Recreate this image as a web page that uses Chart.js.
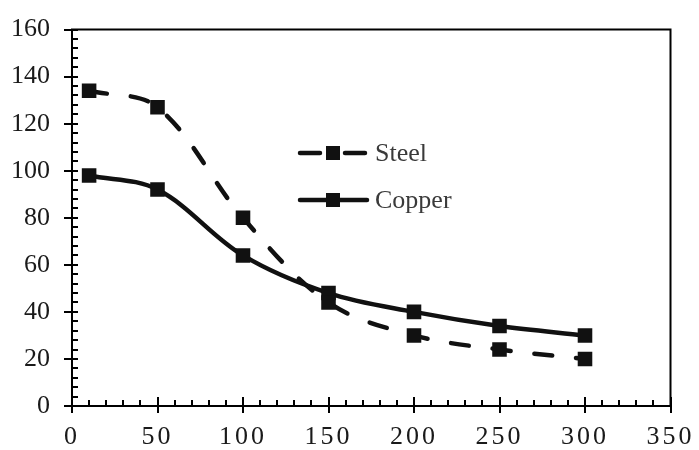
<!DOCTYPE html>
<html><head><meta charset="utf-8">
<script src="https://cdn.jsdelivr.net/npm/chart.js@4"></script>
<style>html,body{margin:0;padding:0;background:#fff}#wrap{width:699px;height:450px}</style>
</head><body><div id="wrap"><canvas id="c" width="699" height="450"></canvas></div>
<script>
const xValues = [10, 50, 100, 150, 200, 250, 300];
const steelValues = [134, 127, 80, 44, 30, 24, 20];
const copperValues = [98, 92, 64, 48, 40, 34, 30];
const seriesNames = ['Steel', 'Copper'];
const xTickValues = [0, 50, 100, 150, 200, 250, 300, 350];
const yTickValues = [0, 20, 40, 60, 80, 100, 120, 140, 160];

const FONT = '"Liberation Serif", "Times New Roman", serif';
const INK = '#111';

const framePlugin = {
  id: 'frame',
  beforeDraw(chart) {
    const s = chart.scales.x;
    if (!s._spaced) {
      const orig = s.drawLabels.bind(s);
      s.drawLabels = function (area) {
        const ctx = chart.ctx;
        ctx.save();
        ctx.letterSpacing = '3px';
        orig(area);
        ctx.restore();
      };
      s._spaced = true;
    }
  },
  afterDraw(chart) {
    const { ctx, chartArea: a, scales: { x, y } } = chart;
    ctx.save();
    ctx.strokeStyle = '#000';
    ctx.lineWidth = 2;
    ctx.lineCap = 'butt';
    ctx.beginPath();
    ctx.moveTo(a.left - 1, a.top);
    ctx.lineTo(a.right, a.top);
    ctx.lineTo(a.right, a.bottom);
    ctx.stroke();
    ctx.beginPath();
    for (let v = x.min; v <= x.max; v += 10) {
      const px = Math.round(x.getPixelForValue(v));
      const len = (v % 50 === 0) ? 9 : 6;
      ctx.moveTo(px, a.bottom);
      ctx.lineTo(px, a.bottom - len);
    }
    for (let v = y.min; v <= y.max; v += 4) {
      const py = Math.round(y.getPixelForValue(v));
      ctx.moveTo(a.left, py);
      ctx.lineTo(a.left + 6, py);
    }
    ctx.stroke();

    // legend inside plot
    const rows = [153, 200];
    chart.data.datasets.forEach((ds, i) => {
      const yy = rows[i];
      ctx.strokeStyle = INK;
      ctx.lineWidth = 4.5;
      ctx.lineCap = 'round';
      ctx.beginPath();
      if (ds.borderDash && ds.borderDash.length) {
        ctx.moveTo(300, yy); ctx.lineTo(320, yy);
        ctx.moveTo(345, yy); ctx.lineTo(365, yy);
      } else {
        ctx.moveTo(300, yy); ctx.lineTo(367, yy);
      }
      ctx.stroke();
      ctx.fillStyle = INK;
      ctx.fillRect(326, yy - 7, 14, 14);
      ctx.fillStyle = '#3a3a3a';
      ctx.font = '26px ' + FONT;
      ctx.textBaseline = 'middle';
      ctx.textAlign = 'left';
      ctx.fillText(ds.label, 375, yy + 1);
    });
    ctx.restore();
  }
};

const mk = (vals) => xValues.map((xv, i) => ({ x: xv, y: vals[i] }));

new Chart(document.getElementById('c'), {
  type: 'line',
  data: {
    datasets: [
      {
        label: seriesNames[0], data: mk(steelValues),
        borderColor: INK, borderWidth: 4.5, borderDash: [18, 24], borderCapStyle: 'round',
        tension: 0.35, pointStyle: 'rect', pointRadius: 10.3,
        pointBackgroundColor: INK, pointBorderColor: INK, pointBorderWidth: 0, fill: false
      },
      {
        label: seriesNames[1], data: mk(copperValues),
        borderColor: INK, borderWidth: 4.5,
        tension: 0.35, pointStyle: 'rect', pointRadius: 10.3,
        pointBackgroundColor: INK, pointBorderColor: INK, pointBorderWidth: 0, fill: false
      }
    ]
  },
  options: {
    responsive: false, animation: false, devicePixelRatio: 1,
    layout: { padding: { left: 0, top: 22, right: 25, bottom: 0 } },
    plugins: { legend: { display: false }, tooltip: { enabled: false } },
    scales: {
      x: {
        type: 'linear', min: 0, max: 350,
        afterBuildTicks: (s) => { s.ticks = xTickValues.map(v => ({ value: v })); },
        afterFit: (s) => { s.height = 44; },
        grid: { display: true, drawOnChartArea: false, drawTicks: true, tickLength: 7, color: '#000', lineWidth: 2 },
        border: { display: true, color: '#000', width: 2 },
        ticks: { color: '#1a1a1a', padding: 9, maxRotation: 0, autoSkip: false, font: { family: FONT, size: 26 } }
      },
      y: {
        type: 'linear', min: 0, max: 160,
        afterBuildTicks: (s) => { s.ticks = yTickValues.map(v => ({ value: v })); },
        afterFit: (s) => { s.width = 72; },
        grid: { display: true, drawOnChartArea: false, drawTicks: true, tickLength: 8, color: '#000', lineWidth: 2 },
        border: { display: true, color: '#000', width: 2 },
        ticks: { color: '#1a1a1a', padding: 14, autoSkip: false, font: { family: FONT, size: 26 } }
      }
    }
  },
  plugins: [framePlugin]
});
</script></body></html>
